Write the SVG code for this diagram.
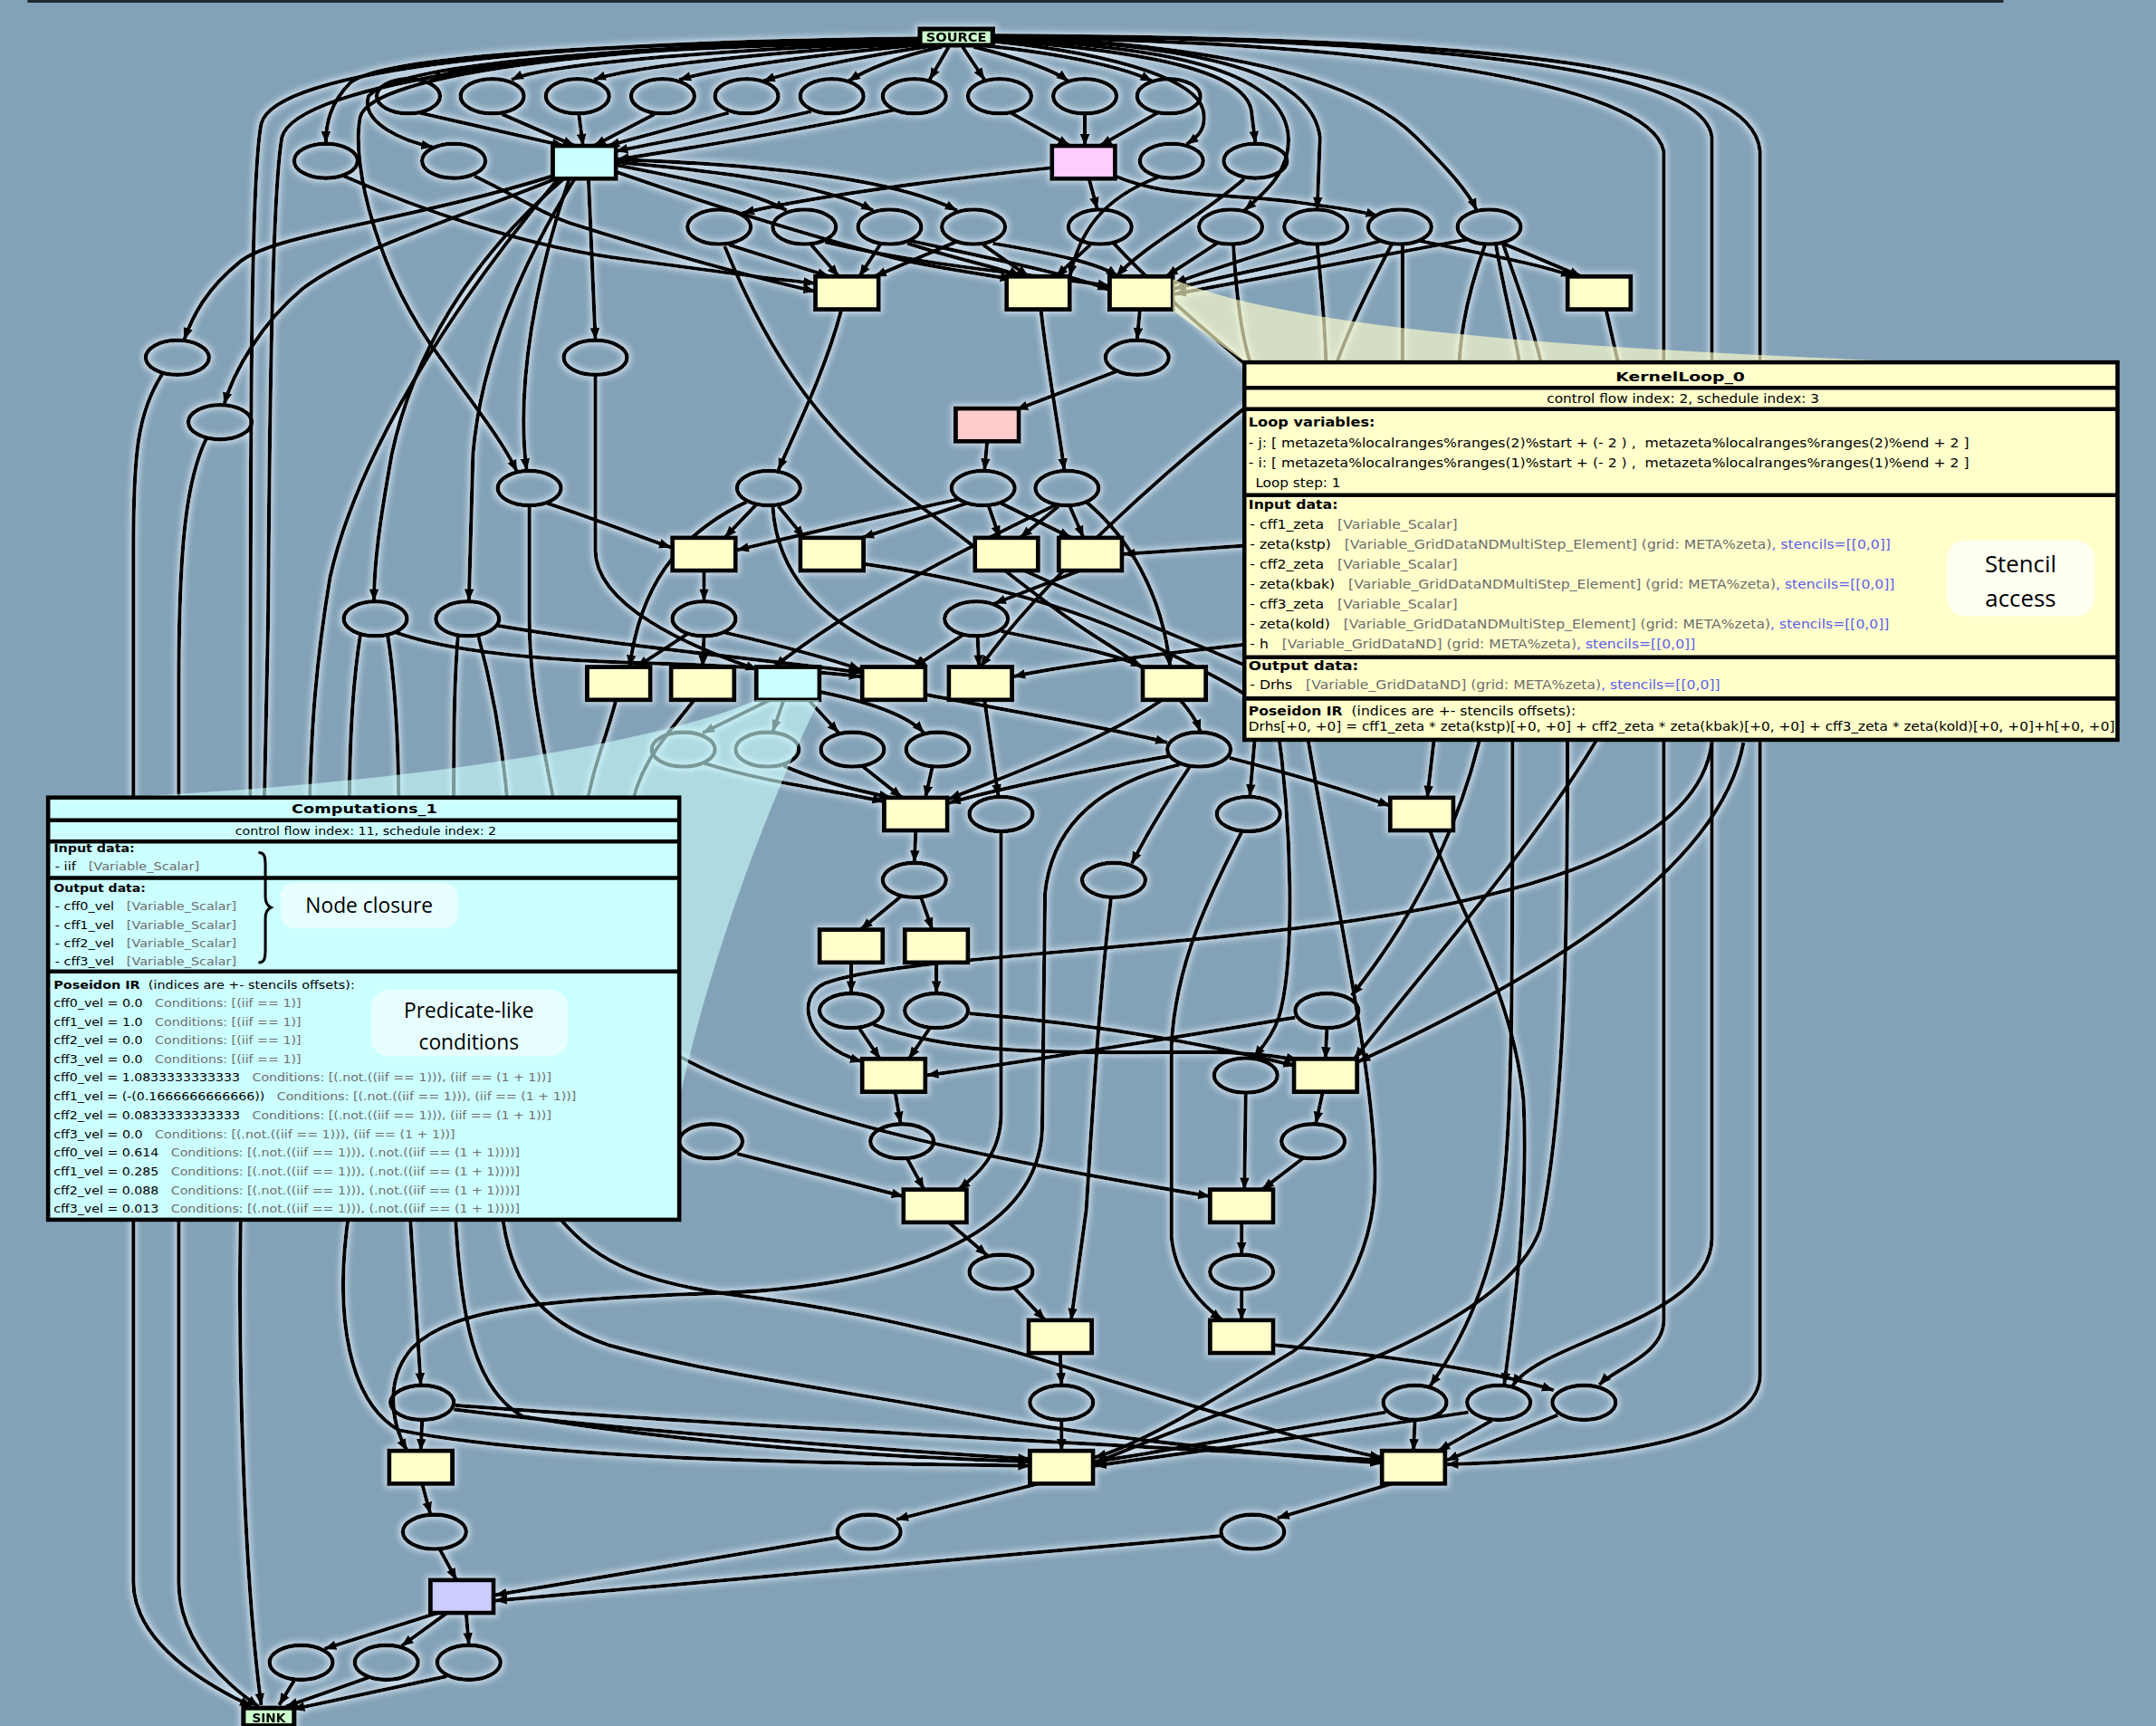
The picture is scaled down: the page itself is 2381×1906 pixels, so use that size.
<svg xmlns="http://www.w3.org/2000/svg" width="2381" height="1906" viewBox="0 0 2381 1906">
<defs>
<marker id="ah" viewBox="0 0 10 8" refX="9.5" refY="4" markerWidth="3.3" markerHeight="2.6" orient="auto"><path d="M0,0 L10,4 L0,8 z" fill="#000"/></marker>
<filter id="glow" filterUnits="userSpaceOnUse" x="0" y="0" width="1570" height="1260">
<feMorphology in="SourceAlpha" operator="dilate" radius="1" result="d"/>
<feGaussianBlur in="d" stdDeviation="2.2" result="b"/>
<feFlood flood-color="#e8f4ff" flood-opacity="0.7"/>
<feComposite in2="b" operator="in" result="g"/>
<feMerge><feMergeNode in="g"/><feMergeNode in="SourceGraphic"/></feMerge>
</filter>
</defs>
<style>
.e{fill:none;stroke:#000;stroke-width:2.8;marker-end:url(#ah)}
.h{fill:none;stroke:#000;stroke-width:2.8}
.n{fill:none;stroke:#000;stroke-width:3}
.r{stroke:#000;stroke-width:3.2}
.y{fill:#ffffcc}.c{fill:#ccffff}.p{fill:#ffccff}.s1{fill:#ffcccc}.l{fill:#ccccff}.gr{fill:#ccffcc}
.t{font-family:"DejaVu Sans","Liberation Sans",sans-serif;font-size:9px;fill:#000;white-space:pre}
.ct{font-size:7.8px}
.b{font-weight:bold}
.g{fill:#6e6e6e}
.s{fill:#5c5cf0}
.sep{stroke:#000;stroke-width:3}
.call{font-family:"Open Sans","Noto Sans",sans-serif;fill:#000;text-anchor:middle}
</style>
<rect x="0" y="0" width="2381" height="1906" fill="#84a2b7"/>
<g transform="scale(1.5185)">
<line x1="20" y1="1" x2="1457" y2="1" stroke="#1e2a33" stroke-width="2"/>
<g filter="url(#glow)">
<g id="connectors">
<path class="e" d="M670,29 C 520,32 350,40 313,58"/>
<path class="e" d="M670,30 C 540,36 400,45 372,58"/>
<path class="e" d="M672,31 C 560,38 460,48 432,58"/>
<path class="e" d="M675,32 C 590,40 520,50 494,58"/>
<path class="e" d="M680,33 C 620,42 575,52 555,59"/>
<path class="e" d="M685,34 C 650,42 628,52 617,59"/>
<path class="e" d="M690,34 L 676,58"/>
<path class="e" d="M700,34 L 716,58"/>
<path class="e" d="M708,34 C 740,42 765,50 777,59"/>
<path class="e" d="M715,33 C 780,40 820,50 838,59"/>
<path class="e" d="M668,28 C 450,32 280,40 255,60 C 240,75 237,90 237,104"/>
<path class="e" d="M668,30 C 450,35 290,45 268,70 C 262,90 295,103 315,107"/>
<path class="e" d="M722,30 C 820,40 870,60 875,80 C 878,95 870,100 863,105"/>
<path class="e" d="M722,29 C 850,38 905,55 910,80 L 913,104"/>
<path class="e" d="M722,28 C 880,35 935,60 937,100 C 938,125 920,140 905,153"/>
<path class="e" d="M722,27 C 900,33 955,60 960,100 L 958,152"/>
<path class="e" d="M722,27 C 900,32 990,60 1030,100 C 1055,125 1068,140 1074,153"/>
<path class="e" d="M722,27 C 1000,30 1200,60 1210,110 L 1210,960 C 1210,985 1175,995 1163,1007"/>
<path class="e" d="M722,26 C 1050,28 1240,50 1245,100 L 1245,900 C 1245,960 1120,975 1100,1008"/>
<path class="e" d="M722,26 C 1100,27 1275,50 1280,110 L 1280,1000 C 1280,1050 1150,1062 1052,1065"/>
<path class="e" d="M668,28 C 400,30 200,50 190,90 C 182,130 182,300 182,700 L 175,888 C 173,1000 178,1150 190,1240"/>
<path class="h" d="M668,29 C 420,32 215,60 205,100 C 198,140 196,300 195,450 L 192,595"/>
<path class="e" d="M668,29 C 430,33 270,55 262,85 C 255,120 275,200 320,260 C 345,295 365,320 376,343"/>
<path class="e" d="M305,82 L 410,106"/>
<path class="e" d="M365,83 L 418,106"/>
<path class="e" d="M421,83 L 424,106"/>
<path class="e" d="M476,83 L 432,106"/>
<path class="e" d="M530,82 L 442,106"/>
<path class="e" d="M590,81 C 530,95 470,105 448,110"/>
<path class="e" d="M650,80 C 580,95 500,108 449,116"/>
<path class="e" d="M735,82 L 778,106"/>
<path class="e" d="M789,83 L 789,106"/>
<path class="e" d="M842,82 L 800,106"/>
<path class="e" d="M402,128 C 300,160 200,170 175,190 C 150,210 140,230 134,247"/>
<path class="e" d="M404,130 C 330,160 260,180 220,210 C 190,235 170,270 163,294"/>
<path class="e" d="M428,130 L 433,247"/>
<path class="e" d="M410,130 C 340,190 300,260 285,330 C 276,380 272,410 272,437"/>
<path class="e" d="M418,130 C 380,190 350,260 344,330 L 341,437"/>
<path class="e" d="M414,130 C 390,200 375,280 383,342"/>
<path class="h" d="M406,130 C 330,220 260,330 240,420 C 230,480 226,530 225,595"/>
<path class="e" d="M448,120 C 500,130 550,140 572,153"/>
<path class="e" d="M448,118 C 530,125 600,135 635,153"/>
<path class="e" d="M448,116 C 560,120 650,130 696,153"/>
<path class="e" d="M448,125 C 520,150 600,175 660,190 C 700,198 720,200 736,203"/>
<path class="e" d="M765,122 C 670,132 580,145 540,155"/>
<path class="e" d="M792,130 L 798,152"/>
<path class="e" d="M811,128 C 850,145 900,140 950,148 C 980,152 995,155 1002,157"/>
<path class="e" d="M250,128 C 300,150 380,180 459,189 C 520,197 560,203 593,206"/>
<path class="e" d="M345,128 C 380,145 400,158 417,163 C 470,180 540,200 593,212"/>
<path class="e" d="M842,129 C 800,145 785,170 778,201"/>
<path class="e" d="M905,130 C 870,160 830,180 812,201"/>
<path class="e" d="M530,178 L 603,201"/>
<path class="e" d="M527,179 C 560,260 600,320 676,373 C 720,405 760,440 800,465 C 840,490 865,510 873,532"/>
<path class="e" d="M590,178 L 610,201"/>
<path class="e" d="M600,176 C 680,195 760,200 807,208"/>
<path class="e" d="M640,178 L 625,201"/>
<path class="e" d="M660,177 C 700,190 730,195 742,201"/>
<path class="e" d="M662,175 C 730,190 780,200 807,211"/>
<path class="e" d="M715,178 L 748,201"/>
<path class="e" d="M722,177 C 770,185 800,192 813,201"/>
<path class="e" d="M695,176 L 636,201"/>
<path class="e" d="M793,178 L 768,201"/>
<path class="h" d="M810,177 C 850,220 900,260 960,310"/>
<path class="e" d="M885,177 L 848,201"/>
<path class="h" d="M897,178 C 900,230 905,270 930,310"/>
<path class="e" d="M945,176 C 900,190 870,200 854,206"/>
<path class="h" d="M958,178 C 962,220 965,250 965,300"/>
<path class="e" d="M1005,175 C 950,190 890,200 854,210"/>
<path class="h" d="M1012,178 C 990,220 975,250 960,300"/>
<path class="h" d="M1020,178 L 1020,300"/>
<path class="e" d="M1032,175 C 1080,185 1120,192 1144,201"/>
<path class="e" d="M1068,174 C 980,190 900,205 854,214"/>
<path class="e" d="M1093,177 L 1150,201"/>
<path class="h" d="M1080,178 C 1065,220 1060,250 1060,300"/>
<path class="h" d="M1088,178 C 1095,220 1105,250 1110,300"/>
<path class="h" d="M1093,177 C 1108,220 1120,250 1128,300"/>
<path class="e" d="M612,225 C 600,270 580,310 566,342"/>
<path class="e" d="M757,225 C 762,270 770,310 774,342"/>
<path class="e" d="M829,225 L 827,247"/>
<path class="h" d="M1168,225 L 1185,300"/>
<path class="e" d="M812,270 L 739,298"/>
<path class="e" d="M433,273 L 433,400 C 433,440 500,470 551,487"/>
<path class="e" d="M118,272 C 100,300 97,330 97,400 L 97,1150 C 97,1195 150,1225 183,1241"/>
<path class="e" d="M150,319 C 135,350 130,400 130,500 L 130,1150 C 130,1195 165,1225 188,1241"/>
<path class="e" d="M718,320 L 716,342"/>
<path class="e" d="M398,366 C 440,380 470,392 488,398"/>
<path class="h" d="M385,368 L 385,450 C 385,500 395,540 405,595"/>
<path class="e" d="M550,367 L 527,391"/>
<path class="e" d="M566,368 L 585,391"/>
<path class="e" d="M543,365 C 490,390 465,430 458,485"/>
<path class="e" d="M562,368 C 565,420 600,450 640,470 C 660,478 670,482 674,485"/>
<path class="e" d="M697,363 C 620,380 570,392 536,400"/>
<path class="e" d="M703,366 L 627,391"/>
<path class="e" d="M719,368 L 727,391"/>
<path class="e" d="M728,366 L 779,391"/>
<path class="e" d="M770,368 L 742,391"/>
<path class="e" d="M778,368 L 788,391"/>
<path class="e" d="M768,367 C 700,400 620,440 563,485"/>
<path class="e" d="M790,365 C 820,390 845,430 851,485"/>
<path class="e" d="M512,415 L 512,437"/>
<path class="h" d="M628,410 C 700,420 780,440 840,470 C 880,490 900,500 920,515"/>
<path class="h" d="M745,415 C 800,440 850,460 920,490"/>
<path class="e" d="M785,415 L 723,439"/>
<path class="e" d="M930,395 L 817,403"/>
<path class="e" d="M930,466 C 820,478 770,485 737,492"/>
<path class="e" d="M920,285 C 850,340 760,420 713,485"/>
<path class="e" d="M288,460 C 330,475 400,480 460,482 C 540,484 590,488 626,492"/>
<path class="h" d="M262,462 C 256,500 254,540 254,595"/>
<path class="h" d="M282,462 C 288,500 290,540 290,595"/>
<path class="e" d="M362,455 C 450,470 560,480 626,489"/>
<path class="h" d="M333,463 C 330,500 330,540 330,595"/>
<path class="h" d="M348,463 C 358,500 366,540 370,595"/>
<path class="e" d="M500,461 L 463,485"/>
<path class="e" d="M512,463 L 511,485"/>
<path class="e" d="M527,460 C 570,470 600,478 626,487"/>
<path class="e" d="M700,462 L 665,485"/>
<path class="e" d="M711,463 L 712,485"/>
<path class="e" d="M728,459 C 780,470 810,475 831,485"/>
<path class="h" d="M448,509 C 440,540 430,560 425,595"/>
<path class="h" d="M505,509 C 480,540 462,560 458,595"/>
<path class="e" d="M560,509 L 511,533"/>
<path class="e" d="M570,509 L 562,532"/>
<path class="e" d="M588,509 L 610,533"/>
<path class="e" d="M596,503 C 630,510 660,520 672,533"/>
<path class="e" d="M673,505 C 750,520 810,530 849,540"/>
<path class="e" d="M716,509 L 726,579"/>
<path class="e" d="M845,509 C 800,540 730,565 690,581"/>
<path class="e" d="M512,555 C 560,570 610,575 643,583"/>
<path class="e" d="M570,557 C 595,568 620,574 648,580"/>
<path class="e" d="M627,557 L 656,580"/>
<path class="e" d="M678,558 L 673,580"/>
<path class="e" d="M850,550 C 790,560 720,575 690,584"/>
<path class="e" d="M894,551 C 940,563 980,575 1011,586"/>
<path class="e" d="M865,558 C 850,580 835,605 823,628"/>
<path class="e" d="M858,556 C 800,570 765,600 760,650 L 758,820 C 756,900 650,935 530,940 C 400,945 330,950 300,980 C 282,1000 282,1030 296,1055"/>
<path class="e" d="M728,605 L 728,810 C 728,840 710,855 697,865"/>
<path class="e" d="M666,604 L 665,627"/>
<path class="e" d="M1040,604 C 1060,660 1100,720 1108,800 C 1112,880 1100,960 1094,1007"/>
<path class="e" d="M903,605 C 880,650 855,700 852,760 L 852,900 C 855,930 875,950 889,960"/>
<path class="e" d="M914,520 L 909,579"/>
<path class="e" d="M928,520 C 940,600 942,700 930,740 C 925,755 915,765 912,769"/>
<path class="e" d="M1045,520 L 1038,580"/>
<path class="e" d="M655,652 L 626,676"/>
<path class="e" d="M670,653 L 678,676"/>
<path class="e" d="M808,653 C 800,720 795,800 790,880 L 779,960"/>
<path class="e" d="M619,700 L 619,722"/>
<path class="e" d="M681,700 L 681,722"/>
<path class="e" d="M625,748 L 640,770"/>
<path class="e" d="M635,745 C 700,770 800,765 880,765 C 910,766 930,768 944,771"/>
<path class="e" d="M676,748 L 661,770"/>
<path class="e" d="M705,737 C 800,745 880,760 942,775"/>
<path class="e" d="M965,748 L 964,770"/>
<path class="e" d="M942,740 C 850,755 760,770 674,782"/>
<path class="e" d="M1080,520 C 1060,620 1010,690 983,724"/>
<path class="e" d="M1268,540 C 1250,640 1100,720 988,772"/>
<path class="e" d="M1166,530 C 1120,610 1040,700 985,770"/>
<path class="e" d="M1245,540 C 1235,620 1100,660 898,680 C 760,695 640,700 600,715 C 578,725 585,760 627,772"/>
<path class="e" d="M906,795 L 905,865"/>
<path class="e" d="M651,794 L 655,817"/>
<path class="e" d="M962,794 L 957,817"/>
<path class="e" d="M660,843 L 672,865"/>
<path class="e" d="M948,842 L 918,865"/>
<path class="e" d="M470,812 C 480,820 488,826 494,829"/>
<path class="e" d="M536,839 L 657,870"/>
<path class="e" d="M480,760 C 560,810 700,840 880,870"/>
<path class="e" d="M690,889 L 718,913"/>
<path class="e" d="M738,937 L 760,960"/>
<path class="e" d="M903,889 L 903,912"/>
<path class="e" d="M903,938 L 903,960"/>
<path class="e" d="M771,984 L 772,1007"/>
<path class="e" d="M926,978 C 1000,985 1080,995 1130,1011"/>
<path class="e" d="M772,1033 L 772,1055"/>
<path class="e" d="M298,880 L 306,1007"/>
<path class="e" d="M254,880 C 242,960 255,1020 290,1040 C 400,1062 600,1064 749,1066"/>
<path class="e" d="M331,880 C 335,960 345,1010 380,1030 C 500,1050 650,1060 749,1063"/>
<path class="e" d="M365,880 C 370,930 390,960 442,978 C 520,1000 600,1009 738,1034 C 850,1052 950,1060 1005,1064"/>
<path class="e" d="M402,880 C 430,915 460,932 536,942 C 600,950 650,960 738,983 C 830,1010 950,1050 1005,1060"/>
<path class="e" d="M307,1033 L 306,1055"/>
<path class="e" d="M330,1025 C 450,1040 650,1055 749,1061"/>
<path class="e" d="M331,1022 C 500,1035 800,1050 1005,1062"/>
<path class="e" d="M1029,1033 L 1028,1055"/>
<path class="e" d="M1008,1027 C 930,1040 850,1055 796,1063"/>
<path class="e" d="M1068,1027 C 950,1045 850,1058 796,1066"/>
<path class="e" d="M1085,1033 L 1046,1055"/>
<path class="e" d="M1133,1029 L 1052,1062"/>
<path class="e" d="M950,530 C 970,650 1000,780 1000,856 C 1000,920 960,970 940,983 C 880,1020 830,1050 796,1060"/>
<path class="e" d="M1140,530 C 1140,650 1140,800 1120,894 C 1100,950 1000,990 940,1009 C 880,1030 830,1050 796,1064"/>
<path class="e" d="M1100,530 C 1100,700 1100,800 1094,856 C 1088,930 1060,980 1040,1008"/>
<path class="e" d="M307,1079 L 313,1101"/>
<path class="e" d="M755,1079 L 652,1105"/>
<path class="e" d="M1012,1079 L 929,1104"/>
<path class="e" d="M320,1127 L 332,1149"/>
<path class="e" d="M610,1118 L 360,1160"/>
<path class="e" d="M888,1117 L 360,1164"/>
<path class="e" d="M318,1173 L 236,1199"/>
<path class="e" d="M325,1173 L 292,1197"/>
<path class="e" d="M339,1173 L 341,1196"/>
<path class="e" d="M214,1222 L 203,1240"/>
<path class="e" d="M268,1220 L 208,1241"/>
<path class="e" d="M325,1219 L 213,1243"/>
</g>
<g id="source"><rect x="669" y="21" width="53" height="12" class="gr" stroke="#000" stroke-width="3.5"/><text x="695.5" y="30.5" class="t b" font-size="8.5" text-anchor="middle" textLength="44" lengthAdjust="spacingAndGlyphs">SOURCE</text></g>
<g id="sink"><rect x="177" y="1242" width="37" height="13" class="gr" stroke="#000" stroke-width="3.5"/><text x="195.5" y="1252.5" class="t b" font-size="8" text-anchor="middle">SINK</text></g>
<g id="e1a"><ellipse class="n" cx="297" cy="70" rx="23" ry="12.5"/></g>
<g id="e1b"><ellipse class="n" cx="358" cy="70" rx="23" ry="12.5"/></g>
<g id="e1c"><ellipse class="n" cx="420" cy="70" rx="23" ry="12.5"/></g>
<g id="e1d"><ellipse class="n" cx="482" cy="70" rx="23" ry="12.5"/></g>
<g id="e1e"><ellipse class="n" cx="543" cy="70" rx="23" ry="12.5"/></g>
<g id="e1f"><ellipse class="n" cx="605" cy="70" rx="23" ry="12.5"/></g>
<g id="e1g"><ellipse class="n" cx="665" cy="70" rx="23" ry="12.5"/></g>
<g id="e1h"><ellipse class="n" cx="727" cy="70" rx="23" ry="12.5"/></g>
<g id="e1i"><ellipse class="n" cx="789" cy="70" rx="23" ry="12.5"/></g>
<g id="e1j"><ellipse class="n" cx="850" cy="70" rx="23" ry="12.5"/></g>
<g id="e2a"><ellipse class="n" cx="237" cy="117" rx="23" ry="12.5"/></g>
<g id="e2b"><ellipse class="n" cx="330" cy="117" rx="23" ry="12.5"/></g>
<g id="e2c"><ellipse class="n" cx="852" cy="117" rx="23" ry="12.5"/></g>
<g id="e2d"><ellipse class="n" cx="913" cy="117" rx="23" ry="12.5"/></g>
<g id="e3a"><ellipse class="n" cx="523" cy="165" rx="23" ry="12.5"/></g>
<g id="e3b"><ellipse class="n" cx="585" cy="165" rx="23" ry="12.5"/></g>
<g id="e3c"><ellipse class="n" cx="647" cy="165" rx="23" ry="12.5"/></g>
<g id="e3d"><ellipse class="n" cx="708" cy="165" rx="23" ry="12.5"/></g>
<g id="e3e"><ellipse class="n" cx="800" cy="165" rx="23" ry="12.5"/></g>
<g id="e3f"><ellipse class="n" cx="895" cy="165" rx="23" ry="12.5"/></g>
<g id="e3g"><ellipse class="n" cx="957" cy="165" rx="23" ry="12.5"/></g>
<g id="e3h"><ellipse class="n" cx="1018" cy="165" rx="23" ry="12.5"/></g>
<g id="e3i"><ellipse class="n" cx="1083" cy="165" rx="23" ry="12.5"/></g>
<g id="e5a"><ellipse class="n" cx="129" cy="260" rx="23" ry="12.5"/></g>
<g id="e5b"><ellipse class="n" cx="433" cy="260" rx="23" ry="12.5"/></g>
<g id="e5c"><ellipse class="n" cx="827" cy="260" rx="23" ry="12.5"/></g>
<g id="e5d"><ellipse class="n" cx="160" cy="307" rx="23" ry="12.5"/></g>
<g id="e6a"><ellipse class="n" cx="385" cy="355" rx="23" ry="12.5"/></g>
<g id="e6b"><ellipse class="n" cx="559" cy="355" rx="23" ry="12.5"/></g>
<g id="e6c"><ellipse class="n" cx="715" cy="355" rx="23" ry="12.5"/></g>
<g id="e6d"><ellipse class="n" cx="776" cy="355" rx="23" ry="12.5"/></g>
<g id="e8a"><ellipse class="n" cx="273" cy="450" rx="23" ry="12.5"/></g>
<g id="e8b"><ellipse class="n" cx="340" cy="450" rx="23" ry="12.5"/></g>
<g id="e8c"><ellipse class="n" cx="512" cy="450" rx="23" ry="12.5"/></g>
<g id="e8d"><ellipse class="n" cx="710" cy="450" rx="23" ry="12.5"/></g>
<g id="e10a"><ellipse class="n" cx="497" cy="545" rx="23" ry="12.5"/></g>
<g id="e10b"><ellipse class="n" cx="558" cy="545" rx="23" ry="12.5"/></g>
<g id="e10c"><ellipse class="n" cx="620" cy="545" rx="23" ry="12.5"/></g>
<g id="e10d"><ellipse class="n" cx="682" cy="545" rx="23" ry="12.5"/></g>
<g id="e10e"><ellipse class="n" cx="872" cy="545" rx="23" ry="12.5"/></g>
<g id="e11a"><ellipse class="n" cx="728" cy="592" rx="23" ry="12.5"/></g>
<g id="e11b"><ellipse class="n" cx="908" cy="592" rx="23" ry="12.5"/></g>
<g id="e12a"><ellipse class="n" cx="665" cy="640" rx="23" ry="12.5"/></g>
<g id="e12b"><ellipse class="n" cx="810" cy="640" rx="23" ry="12.5"/></g>
<g id="e14a"><ellipse class="n" cx="619" cy="735" rx="23" ry="12.5"/></g>
<g id="e14b"><ellipse class="n" cx="681" cy="735" rx="23" ry="12.5"/></g>
<g id="e14c"><ellipse class="n" cx="965" cy="735" rx="23" ry="12.5"/></g>
<g id="e15a"><ellipse class="n" cx="906" cy="782" rx="23" ry="12.5"/></g>
<g id="e16a"><ellipse class="n" cx="517" cy="830" rx="23" ry="12.5"/></g>
<g id="e16b"><ellipse class="n" cx="656" cy="830" rx="23" ry="12.5"/></g>
<g id="e16c"><ellipse class="n" cx="955" cy="830" rx="23" ry="12.5"/></g>
<g id="e18a"><ellipse class="n" cx="728" cy="925" rx="23" ry="12.5"/></g>
<g id="e18b"><ellipse class="n" cx="903" cy="925" rx="23" ry="12.5"/></g>
<g id="e20a"><ellipse class="n" cx="307" cy="1020" rx="23" ry="12.5"/></g>
<g id="e20b"><ellipse class="n" cx="772" cy="1020" rx="23" ry="12.5"/></g>
<g id="e20c"><ellipse class="n" cx="1029" cy="1020" rx="23" ry="12.5"/></g>
<g id="e20d"><ellipse class="n" cx="1090" cy="1020" rx="23" ry="12.5"/></g>
<g id="e20e"><ellipse class="n" cx="1152" cy="1020" rx="23" ry="12.5"/></g>
<g id="e22a"><ellipse class="n" cx="316" cy="1114" rx="23" ry="12.5"/></g>
<g id="e22b"><ellipse class="n" cx="632" cy="1114" rx="23" ry="12.5"/></g>
<g id="e22c"><ellipse class="n" cx="911" cy="1114" rx="23" ry="12.5"/></g>
<g id="e23a"><ellipse class="n" cx="219" cy="1209" rx="23" ry="12.5"/></g>
<g id="e23b"><ellipse class="n" cx="281" cy="1209" rx="23" ry="12.5"/></g>
<g id="e23c"><ellipse class="n" cx="341" cy="1209" rx="23" ry="12.5"/></g>
<g id="c1"><rect class="r c" x="402" y="106" width="46" height="24"/></g>
<g id="p1"><rect class="r p" x="765" y="106" width="46" height="24"/></g>
<g id="r4a"><rect class="r y" x="593" y="201" width="46" height="24"/></g>
<g id="r4b"><rect class="r y" x="732" y="201" width="46" height="24"/></g>
<g id="r4c"><rect class="r y" x="807" y="201" width="46" height="24"/></g>
<g id="r4d"><rect class="r y" x="1140" y="201" width="46" height="24"/></g>
<g id="s1"><rect class="r s1" x="695" y="297" width="46" height="24"/></g>
<g id="r7a"><rect class="r y" x="489" y="391" width="46" height="24"/></g>
<g id="r7b"><rect class="r y" x="582" y="391" width="46" height="24"/></g>
<g id="r7c"><rect class="r y" x="709" y="391" width="46" height="24"/></g>
<g id="r7d"><rect class="r y" x="770" y="391" width="46" height="24"/></g>
<g id="r9a"><rect class="r y" x="427" y="485" width="46" height="24"/></g>
<g id="r9b"><rect class="r y" x="488" y="485" width="46" height="24"/></g>
<g id="c2"><rect class="r c" x="550" y="485" width="46" height="24"/></g>
<g id="r9c"><rect class="r y" x="627" y="485" width="46" height="24"/></g>
<g id="r9d"><rect class="r y" x="690" y="485" width="46" height="24"/></g>
<g id="r9e"><rect class="r y" x="831" y="485" width="46" height="24"/></g>
<g id="r11a"><rect class="r y" x="643" y="580" width="46" height="24"/></g>
<g id="r11b"><rect class="r y" x="1011" y="580" width="46" height="24"/></g>
<g id="r13a"><rect class="r y" x="596" y="676" width="46" height="24"/></g>
<g id="r13b"><rect class="r y" x="658" y="676" width="46" height="24"/></g>
<g id="r15a"><rect class="r y" x="627" y="770" width="46" height="24"/></g>
<g id="r15b"><rect class="r y" x="941" y="770" width="46" height="24"/></g>
<g id="r17a"><rect class="r y" x="657" y="865" width="46" height="24"/></g>
<g id="r17b"><rect class="r y" x="880" y="865" width="46" height="24"/></g>
<g id="r19a"><rect class="r y" x="748" y="960" width="46" height="24"/></g>
<g id="r19b"><rect class="r y" x="880" y="960" width="46" height="24"/></g>
<g id="r21a"><rect class="r y" x="283" y="1055" width="46" height="24"/></g>
<g id="r21b"><rect class="r y" x="749" y="1055" width="46" height="24"/></g>
<g id="r21c"><rect class="r y" x="1005" y="1055" width="46" height="24"/></g>
<g id="l1"><rect class="r l" x="313" y="1149" width="46" height="24"/></g>
</g>
<path d="M853,203 C 930,235 1100,252 1390,263 L 905,263 L 853,226 Z" fill="#ffffcc" opacity="0.65"/>
<path d="M550,509 C 480,540 300,570 80,580 L 494,580 L 494,800 C 520,680 570,560 596,509 Z" fill="#ccffff" opacity="0.6"/>
<g id="kernelloop-0">
<rect x="905" y="263.5" width="635" height="274.5" fill="#ffffcc" stroke="#000" stroke-width="3"/>
<line class="sep" x1="905" y1="282" x2="1540" y2="282"/>
<line class="sep" x1="905" y1="297.5" x2="1540" y2="297.5"/>
<line class="sep" x1="905" y1="360" x2="1540" y2="360"/>
<line class="sep" x1="905" y1="478" x2="1540" y2="478"/>
<line class="sep" x1="905" y1="508" x2="1540" y2="508"/>
<text class="t b" x="1222" y="277" font-size="11" text-anchor="middle" textLength="94" lengthAdjust="spacingAndGlyphs">KernelLoop_0</text>
<text class="t" x="1224" y="293" font-size="8.5" text-anchor="middle" textLength="198" lengthAdjust="spacingAndGlyphs">control flow index: 2, schedule index: 3</text>
<text class="t b" x="908" y="310" textLength="92" lengthAdjust="spacingAndGlyphs">Loop variables:</text>
<text class="t" x="908" y="325" textLength="524" lengthAdjust="spacingAndGlyphs">- j: [ metazeta%localranges%ranges(2)%start + (- 2 ) ,  metazeta%localranges%ranges(2)%end + 2 ]</text>
<text class="t" x="908" y="339.5" textLength="524" lengthAdjust="spacingAndGlyphs">- i: [ metazeta%localranges%ranges(1)%start + (- 2 ) ,  metazeta%localranges%ranges(1)%end + 2 ]</text>
<text class="t" x="913" y="354" textLength="62" lengthAdjust="spacingAndGlyphs">Loop step: 1</text>
<text class="t b" x="908" y="370" textLength="65" lengthAdjust="spacingAndGlyphs">Input data:</text>
<text class="t" x="909" y="384.5" textLength="151" lengthAdjust="spacingAndGlyphs">- cff1_zeta   <tspan class="g">[Variable_Scalar]</tspan></text>
<text class="t" x="909" y="399" textLength="466" lengthAdjust="spacingAndGlyphs">- zeta(kstp)   <tspan class="g">[Variable_GridDataNDMultiStep_Element] (grid: META%zeta)</tspan><tspan class="s">, stencils=[[0,0]]</tspan></text>
<text class="t" x="909" y="413.5" textLength="151" lengthAdjust="spacingAndGlyphs">- cff2_zeta   <tspan class="g">[Variable_Scalar]</tspan></text>
<text class="t" x="909" y="428" textLength="469" lengthAdjust="spacingAndGlyphs">- zeta(kbak)   <tspan class="g">[Variable_GridDataNDMultiStep_Element] (grid: META%zeta)</tspan><tspan class="s">, stencils=[[0,0]]</tspan></text>
<text class="t" x="909" y="442.5" textLength="151" lengthAdjust="spacingAndGlyphs">- cff3_zeta   <tspan class="g">[Variable_Scalar]</tspan></text>
<text class="t" x="909" y="457" textLength="465" lengthAdjust="spacingAndGlyphs">- zeta(kold)   <tspan class="g">[Variable_GridDataNDMultiStep_Element] (grid: META%zeta)</tspan><tspan class="s">, stencils=[[0,0]]</tspan></text>
<text class="t" x="909" y="471.5" textLength="324" lengthAdjust="spacingAndGlyphs">- h   <tspan class="g">[Variable_GridDataND] (grid: META%zeta)</tspan><tspan class="s">, stencils=[[0,0]]</tspan></text>
<text class="t b" x="908" y="487" textLength="80" lengthAdjust="spacingAndGlyphs">Output data:</text>
<text class="t" x="909" y="501" textLength="342" lengthAdjust="spacingAndGlyphs">- Drhs   <tspan class="g">[Variable_GridDataND] (grid: META%zeta)</tspan><tspan class="s">, stencils=[[0,0]]</tspan></text>
<text class="t" x="908" y="520" textLength="238" lengthAdjust="spacingAndGlyphs"><tspan class="b">Poseidon IR</tspan>  (indices are +- stencils offsets):</text>
<text class="t" x="908" y="531.5" textLength="630" lengthAdjust="spacingAndGlyphs">Drhs[+0, +0] = cff1_zeta * zeta(kstp)[+0, +0] + cff2_zeta * zeta(kbak)[+0, +0] + cff3_zeta * zeta(kold)[+0, +0]+h[+0, +0]</text>
</g>
<g id="callout-stencil"><rect x="1416" y="393" width="107" height="55" rx="13" fill="#fffff2"/><text class="call" x="1469.5" y="416" font-size="17">Stencil</text><text class="call" x="1469.5" y="441" font-size="17">access</text></g>
<g id="computations-1">
<rect x="35" y="580" width="459" height="307" fill="#ccffff" stroke="#000" stroke-width="3"/>
<line class="sep" x1="35" y1="596.5" x2="494" y2="596.5"/>
<line class="sep" x1="35" y1="612" x2="494" y2="612"/>
<line class="sep" x1="35" y1="638.5" x2="494" y2="638.5"/>
<line class="sep" x1="35" y1="706.5" x2="494" y2="706.5"/>
<text class="t b" x="265" y="591.5" font-size="10.5" text-anchor="middle" textLength="106" lengthAdjust="spacingAndGlyphs">Computations_1</text>
<text class="t ct" x="266" y="607" text-anchor="middle" textLength="190" lengthAdjust="spacingAndGlyphs">control flow index: 11, schedule index: 2</text>
<text class="t ct b" x="39" y="620" textLength="59" lengthAdjust="spacingAndGlyphs">Input data:</text>
<text class="t ct" x="40" y="633" textLength="105" lengthAdjust="spacingAndGlyphs">- iif   <tspan class="g">[Variable_Scalar]</tspan></text>
<text class="t ct b" x="39" y="648.5" textLength="67" lengthAdjust="spacingAndGlyphs">Output data:</text>
<text class="t ct" x="40" y="662" textLength="132" lengthAdjust="spacingAndGlyphs">- cff0_vel   <tspan class="g">[Variable_Scalar]</tspan></text>
<text class="t ct" x="40" y="675.5" textLength="132" lengthAdjust="spacingAndGlyphs">- cff1_vel   <tspan class="g">[Variable_Scalar]</tspan></text>
<text class="t ct" x="40" y="689" textLength="132" lengthAdjust="spacingAndGlyphs">- cff2_vel   <tspan class="g">[Variable_Scalar]</tspan></text>
<text class="t ct" x="40" y="702" textLength="132" lengthAdjust="spacingAndGlyphs">- cff3_vel   <tspan class="g">[Variable_Scalar]</tspan></text>
<path d="M188,620 C 192,620 193,622 193,630 L 193,652 C 193,657 195,659 197,660 C 195,661 193,663 193,668 L 193,690 C 193,698 192,700 188,700" fill="none" stroke="#000" stroke-width="2"/>
<text class="t ct" x="39" y="719" textLength="219" lengthAdjust="spacingAndGlyphs"><tspan class="b">Poseidon IR</tspan>  (indices are +- stencils offsets):</text>
<text class="t ct" x="39" y="732.5" textLength="180" lengthAdjust="spacingAndGlyphs">cff0_vel = 0.0   <tspan class="g">Conditions: [(iif == 1)]</tspan></text>
<text class="t ct" x="39" y="746" textLength="180" lengthAdjust="spacingAndGlyphs">cff1_vel = 1.0   <tspan class="g">Conditions: [(iif == 1)]</tspan></text>
<text class="t ct" x="39" y="759.5" textLength="180" lengthAdjust="spacingAndGlyphs">cff2_vel = 0.0   <tspan class="g">Conditions: [(iif == 1)]</tspan></text>
<text class="t ct" x="39" y="773" textLength="180" lengthAdjust="spacingAndGlyphs">cff3_vel = 0.0   <tspan class="g">Conditions: [(iif == 1)]</tspan></text>
<text class="t ct" x="39" y="786.5" textLength="362" lengthAdjust="spacingAndGlyphs">cff0_vel = 1.0833333333333   <tspan class="g">Conditions: [(.not.((iif == 1))), (iif == (1 + 1))]</tspan></text>
<text class="t ct" x="39" y="800" textLength="380" lengthAdjust="spacingAndGlyphs">cff1_vel = (-(0.1666666666666))   <tspan class="g">Conditions: [(.not.((iif == 1))), (iif == (1 + 1))]</tspan></text>
<text class="t ct" x="39" y="814" textLength="362" lengthAdjust="spacingAndGlyphs">cff2_vel = 0.0833333333333   <tspan class="g">Conditions: [(.not.((iif == 1))), (iif == (1 + 1))]</tspan></text>
<text class="t ct" x="39" y="827.5" textLength="292" lengthAdjust="spacingAndGlyphs">cff3_vel = 0.0   <tspan class="g">Conditions: [(.not.((iif == 1))), (iif == (1 + 1))]</tspan></text>
<text class="t ct" x="39" y="841" textLength="339" lengthAdjust="spacingAndGlyphs">cff0_vel = 0.614   <tspan class="g">Conditions: [(.not.((iif == 1))), (.not.((iif == (1 + 1))))]</tspan></text>
<text class="t ct" x="39" y="855" textLength="339" lengthAdjust="spacingAndGlyphs">cff1_vel = 0.285   <tspan class="g">Conditions: [(.not.((iif == 1))), (.not.((iif == (1 + 1))))]</tspan></text>
<text class="t ct" x="39" y="868.5" textLength="339" lengthAdjust="spacingAndGlyphs">cff2_vel = 0.088   <tspan class="g">Conditions: [(.not.((iif == 1))), (.not.((iif == (1 + 1))))]</tspan></text>
<text class="t ct" x="39" y="882" textLength="339" lengthAdjust="spacingAndGlyphs">cff3_vel = 0.013   <tspan class="g">Conditions: [(.not.((iif == 1))), (.not.((iif == (1 + 1))))]</tspan></text>
</g>
<g id="callout-closure"><rect x="204" y="642" width="129" height="33" rx="10" fill="#e8ffff"/><text class="call" x="268.5" y="664" font-size="15">Node closure</text></g>
<g id="callout-predicate"><rect x="270" y="720" width="143" height="48" rx="12" fill="#e8ffff"/><text class="call" x="341" y="740" font-size="15">Predicate-like</text><text class="call" x="341" y="763" font-size="15">conditions</text></g>
</g>
</svg>
